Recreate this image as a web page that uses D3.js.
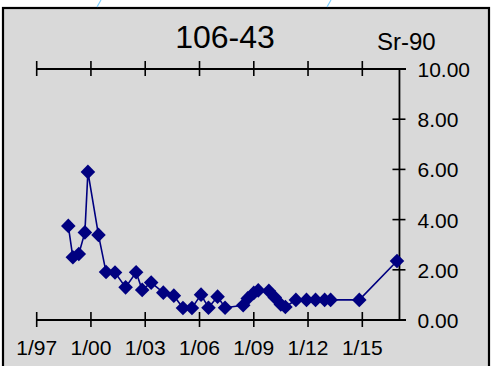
<!DOCTYPE html>
<html>
<head>
<meta charset="utf-8">
<script src="https://cdn.jsdelivr.net/npm/d3@7"></script>
<style>
  html, body { margin: 0; padding: 0; background: #ffffff; }
  svg { display: block; }
  text { font-family: "Liberation Sans", Arial, sans-serif; fill: #000; }
</style>
</head>
<body>
<svg id="chart" width="493" height="366"></svg>
<script>
// Sr-90 activity at well 106-43, sample dates (year, month) and values
const sampleDates = [
  [1998, 10], [1999, 1], [1999, 5], [1999, 9], [1999, 11],
  [2000, 6], [2000, 11], [2001, 5], [2001, 12], [2002, 7],
  [2002, 11], [2003, 5], [2004, 1], [2004, 8], [2005, 2],
  [2005, 8], [2006, 2], [2006, 7], [2007, 1], [2007, 6],
  [2008, 6], [2008, 9], [2009, 1], [2009, 4], [2009, 11],
  [2010, 3], [2010, 7], [2010, 10], [2011, 5], [2011, 12],
  [2012, 6], [2012, 12], [2013, 4], [2014, 11], [2016, 12]
];
const sr90Values = [
  3.75, 2.50, 2.63, 3.49, 5.90,
  3.39, 1.91, 1.89, 1.30, 1.90,
  1.20, 1.49, 1.09, 0.97, 0.48,
  0.48, 1.01, 0.49, 0.93, 0.49,
  0.59, 0.86, 1.08, 1.18, 1.16,
  0.90, 0.62, 0.52, 0.80, 0.80,
  0.80, 0.80, 0.80, 0.80, 2.35
];
const xTickDates = [[1997, 1], [2000, 1], [2003, 1], [2006, 1], [2009, 1], [2012, 1], [2015, 1]];
const xTickLabels = ["1/97", "1/00", "1/03", "1/06", "1/09", "1/12", "1/15"];
const yTickValues = [0, 2, 4, 6, 8, 10];
const chartTitle = "106-43";
const analyteLabel = "Sr-90";

const toDate = ([yr, m]) => new Date(yr, m - 1, 1);
const points = sampleDates.map((d, i) => ({ date: toDate(d), value: sr90Values[i] }));

const svg = d3.select("#chart");

// panel
svg.append("rect")
  .attr("x", 3).attr("y", 8)
  .attr("width", 486).attr("height", 370)
  .attr("fill", "#d9d9d9")
  .attr("stroke", "#000").attr("stroke-width", 2.2);

// thin connector strokes at the top edge
svg.append("line").attr("x1", 101).attr("y1", 0).attr("x2", 97).attr("y2", 7)
  .attr("stroke", "#7fd0ff").attr("stroke-width", 1.2);
svg.append("line").attr("x1", 331).attr("y1", 0).attr("x2", 327).attr("y2", 7)
  .attr("stroke", "#7fd0ff").attr("stroke-width", 1.2);

const x = d3.scaleTime()
  .domain([new Date(1997, 0, 1), new Date(2017, 5, 1)])
  .range([36.7, 406]);
const y = d3.scaleLinear().domain([0, 10]).range([320, 69]);
const yAxisDate = new Date(2017, 0, 20);
const valueAxisX = x(yAxisDate);

const tickDates = xTickDates.map(toDate);

// bottom axis
const bottomAxis = svg.append("g").attr("transform", `translate(0,${y(0)})`);
bottomAxis.append("line").attr("x1", x.range()[0]).attr("x2", x.range()[1])
  .attr("stroke", "#000").attr("stroke-width", 2);
bottomAxis.selectAll("line.tick").data(tickDates).join("line")
  .attr("class", "tick")
  .attr("x1", d => x(d)).attr("x2", d => x(d))
  .attr("y1", -8).attr("y2", 7)
  .attr("stroke", "#000").attr("stroke-width", 1.6);
bottomAxis.selectAll("text").data(tickDates).join("text")
  .attr("x", d => x(d)).attr("y", 35)
  .attr("text-anchor", "middle")
  .attr("font-size", 21)
  .text((d, i) => xTickLabels[i]);

// top axis (ticks only)
const topAxis = svg.append("g").attr("transform", `translate(0,${y(10)})`);
topAxis.append("line").attr("x1", x.range()[0]).attr("x2", x.range()[1])
  .attr("stroke", "#000").attr("stroke-width", 2);
topAxis.selectAll("line.tick").data(tickDates).join("line")
  .attr("class", "tick")
  .attr("x1", d => x(d)).attr("x2", d => x(d))
  .attr("y1", -8).attr("y2", 7)
  .attr("stroke", "#000").attr("stroke-width", 1.6);

// right-hand value axis
const valueAxis = svg.append("g").attr("transform", `translate(${valueAxisX},0)`);
valueAxis.append("line").attr("y1", y(0)).attr("y2", y(10))
  .attr("stroke", "#000").attr("stroke-width", 1.8);
valueAxis.selectAll("line.tick").data(yTickValues).join("line")
  .attr("class", "tick")
  .attr("x1", -7).attr("x2", 6)
  .attr("y1", d => y(d)).attr("y2", d => y(d))
  .attr("stroke", "#000").attr("stroke-width", 1.6);
valueAxis.selectAll("text").data(yTickValues).join("text")
  .attr("x", 18).attr("y", d => y(d) + 8)
  .attr("font-size", 21)
  .text(d => d3.format(".2f")(d));

// titles
svg.append("text").attr("x", 225).attr("y", 48)
  .attr("text-anchor", "middle").attr("font-size", 32)
  .text(chartTitle);
svg.append("text").attr("x", 377).attr("y", 50)
  .attr("font-size", 24)
  .text(analyteLabel);

// series line and diamond markers
const line = d3.line().x(d => x(d.date)).y(d => y(d.value));
svg.append("path").datum(points)
  .attr("d", line)
  .attr("fill", "none")
  .attr("stroke", "#000080").attr("stroke-width", 1.6);

const r = 7.3;
svg.selectAll("path.marker").data(points).join("path")
  .attr("class", "marker")
  .attr("d", d => {
    const cx = x(d.date), cy = y(d.value);
    return `M${cx},${cy - r}L${cx + r},${cy}L${cx},${cy + r}L${cx - r},${cy}Z`;
  })
  .attr("fill", "#000080");
</script>
</body>
</html>
